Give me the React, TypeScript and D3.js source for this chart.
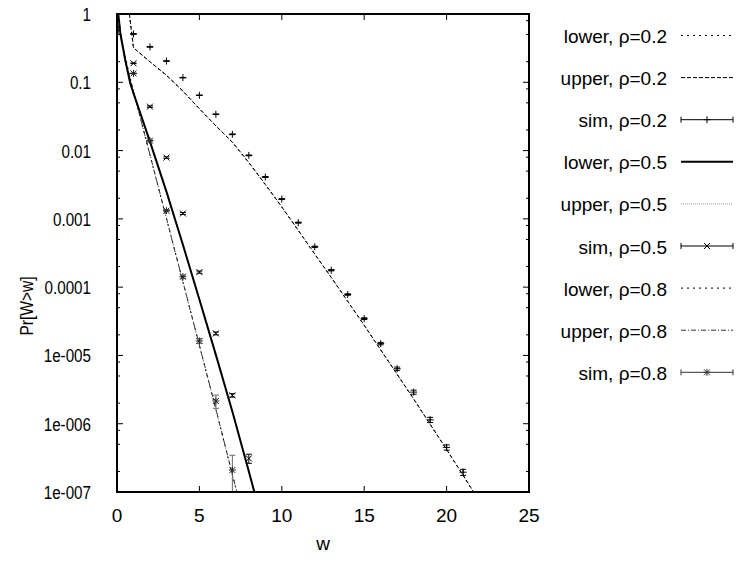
import React from "react";
import * as d3 from "d3";

const WIDTH = 737;
const HEIGHT = 562;

// Axis ticks
const xTicks = [0, 5, 10, 15, 20, 25];
const yTicks = [1, 0.1, 0.01, 0.001, 0.0001, 1e-5, 1e-6, 1e-7];
const yTickLabels = ["1", "0.1", "0.01", "0.001", "0.0001", "1e-005", "1e-006", "1e-007"];
const minorFactors = [2, 5, 8];

// Bounds, rho = 0.2
const lower02W = [0.75, 1, 2, 3, 4, 5, 6, 7, 8, 9, 10, 11, 12, 13, 14, 15, 16, 17, 18, 19, 20, 21, 22];
const lower02P = [1, 0.32, 0.199, 0.126, 0.0741, 0.0407, 0.0229, 0.0132, 0.0066, 0.00316, 0.00148, 6.76e-4, 3.02e-4, 1.38e-4, 6.17e-5, 2.75e-5, 1.2e-5, 5.25e-6, 2.29e-6, 9.77e-7, 4.17e-7, 1.74e-7, 7.2e-8];
const upper02W = [0.75, 1, 2, 3, 4, 5, 6, 7, 8, 9, 10, 11, 12, 13, 14, 15, 16, 17, 18, 19, 20, 21, 22];
const upper02P = [1, 0.32, 0.2, 0.127, 0.0745, 0.041, 0.023, 0.0133, 0.0067, 0.0032, 0.0015, 6.8e-4, 3.05e-4, 1.39e-4, 6.2e-5, 2.77e-5, 1.21e-5, 5.3e-6, 2.31e-6, 9.85e-7, 4.2e-7, 1.76e-7, 7.3e-8];

// Bounds, rho = 0.5
const lower05W = [0.08, 0.2, 0.5, 0.8, 1, 2, 3, 4, 5, 6, 7, 8, 9];
const lower05P = [1, 0.525, 0.214, 0.0977, 0.0692, 0.0135, 0.00251, 4.17e-4, 6.6e-5, 1.02e-5, 1.51e-6, 2.0e-7, 2.5e-8];
const upper05W = [0.04, 0.2, 0.5, 0.8, 1, 2, 3, 4, 5, 6, 7, 8, 9];
const upper05P = [1, 0.45, 0.19, 0.095, 0.07, 0.0137, 0.00255, 4.22e-4, 6.7e-5, 1.04e-5, 1.53e-6, 2.03e-7, 2.55e-8];

// Bounds, rho = 0.8
const lower08W = [0.03, 0.3, 1, 2, 3, 4, 5, 6, 7, 8];
const lower08P = [1, 0.38, 0.073, 0.0086, 0.00101, 1.19e-4, 1.4e-5, 1.62e-6, 1.8e-7, 2.0e-8];
const upper08W = [0.05, 0.5, 1, 2, 3, 4, 5, 6, 7, 8];
const upper08P = [1, 0.2, 0.0741, 0.0087, 0.00102, 1.2e-4, 1.41e-5, 1.64e-6, 1.82e-7, 2.0e-8];

// Simulation estimates with error half-widths
const sim02W = [0, 1, 2, 3, 4, 5, 6, 7, 8, 9, 10, 11, 12, 13, 14, 15, 16, 17, 18, 19, 20, 21];
const sim02P = [0.66, 0.51, 0.33, 0.205, 0.117, 0.0645, 0.034, 0.0173, 0.0085, 0.0041, 0.00195, 8.8e-4, 3.9e-4, 1.77e-4, 7.8e-5, 3.46e-5, 1.49e-5, 6.4e-6, 2.9e-6, 1.14e-6, 4.5e-7, 1.95e-7];
const sim02Err = [0.003, 0.003, 0.002, 0.001, 0.0008, 0.0005, 0.0003, 0.0002, 0.0001, 0.00006, 0.00003, 1.5e-5, 8e-6, 4e-6, 2e-6, 1e-6, 6e-7, 3.5e-7, 2e-7, 1e-7, 4e-8, 2e-8];

const sim05W = [0, 1, 2, 3, 4, 5, 6, 7, 8];
const sim05P = [0.6, 0.19, 0.044, 0.0079, 0.0012, 1.66e-4, 2.1e-5, 2.6e-6, 3.1e-7];
const sim05Err = [0.003, 0.002, 0.001, 0.0002, 0.00004, 6e-6, 1e-6, 1.5e-7, 4.7e-8];

const sim08W = [0, 1, 2, 3, 4, 5, 6, 7];
const sim08P = [0.55, 0.135, 0.014, 0.00132, 1.42e-4, 1.63e-5, 2.15e-6, 2.1e-7];
const sim08Err = [0.003, 0.002, 0.0003, 0.00005, 8e-6, 1.3e-6, 4.7e-7, 1.35e-7];

type Marker = "plus" | "cross" | "star";

const x = d3.scaleLinear().domain([0, 25]).range([117, 529]);
const y = d3.scaleLog().domain([1e-7, 1]).range([492, 14]);

const zip = (w: number[], p: number[]) => w.map((v, i) => [v, p[i]] as [number, number]);

const lineGen = d3
  .line<[number, number]>()
  .x((d) => x(d[0]))
  .y((d) => y(d[1]));

const curves = [
  { key: "l02", data: zip(lower02W, lower02P), stroke: "#000", width: 1, dash: "2,4" },
  { key: "u02", data: zip(upper02W, upper02P), stroke: "#000", width: 1, dash: "4,2" },
  { key: "u05", data: zip(upper05W, upper05P), stroke: "#999", width: 1, dash: "1,1" },
  { key: "l08", data: zip(lower08W, lower08P), stroke: "#000", width: 1, dash: "2,4" },
  { key: "u08", data: zip(upper08W, upper08P), stroke: "#333", width: 1, dash: "5,2,1,2" },
  { key: "l05", data: zip(lower05W, lower05P), stroke: "#000", width: 2, dash: undefined },
];

const sims = [
  { key: "s02", w: sim02W, p: sim02P, err: sim02Err, marker: "plus" as Marker, color: "#000", barColor: "#000" },
  { key: "s05", w: sim05W, p: sim05P, err: sim05Err, marker: "cross" as Marker, color: "#000", barColor: "#000" },
  { key: "s08", w: sim08W, p: sim08P, err: sim08Err, marker: "star" as Marker, color: "#222", barColor: "#666" },
];

const legendLabels = [
  "lower, ρ=0.2",
  "upper, ρ=0.2",
  "sim, ρ=0.2",
  "lower, ρ=0.5",
  "upper, ρ=0.5",
  "sim, ρ=0.5",
  "lower, ρ=0.8",
  "upper, ρ=0.8",
  "sim, ρ=0.8",
];
const legendSamples: ({ kind: "line"; stroke: string; width: number; dash?: string } | { kind: "sim"; marker: Marker; color: string })[] = [
  { kind: "line", stroke: "#000", width: 1, dash: "2,4" },
  { kind: "line", stroke: "#000", width: 1, dash: "4,2" },
  { kind: "sim", marker: "plus", color: "#000" },
  { kind: "line", stroke: "#000", width: 2 },
  { kind: "line", stroke: "#999", width: 1, dash: "1,1" },
  { kind: "sim", marker: "cross", color: "#000" },
  { kind: "line", stroke: "#000", width: 1, dash: "2,4" },
  { kind: "line", stroke: "#333", width: 1, dash: "5,2,1,2" },
  { kind: "sim", marker: "star", color: "#333" },
];

function MarkerShape({ type, cx, cy, color }: { type: Marker; cx: number; cy: number; color: string }) {
  const p = 3.5;
  const c = 3;
  const parts: string[] = [];
  if (type === "plus" || type === "star") {
    parts.push(`M${cx - p},${cy}H${cx + p}M${cx},${cy - p}V${cy + p}`);
  }
  if (type === "cross" || type === "star") {
    parts.push(`M${cx - c},${cy - c}L${cx + c},${cy + c}M${cx - c},${cy + c}L${cx + c},${cy - c}`);
  }
  return <path d={parts.join("")} stroke={color} strokeWidth={1} fill="none" />;
}

export default function App() {
  const left = x.range()[0];
  const right = x.range()[1];
  const top = y.range()[1];
  const bottom = y.range()[0];

  const minorTicks: number[] = [];
  for (let e = -7; e < 0; e++) {
    minorFactors.forEach((f) => minorTicks.push(f * Math.pow(10, e)));
  }

  const legendX0 = 681;
  const legendX1 = 733;
  const legendTextX = 667;
  const legendY = (i: number) => 35.5 + i * 42.1;

  return (
    <svg
      width={WIDTH}
      height={HEIGHT}
      style={{ position: "absolute", left: 0, top: 0, background: "#fff" }}
      fontFamily="'Liberation Sans', Arial, sans-serif"
    >
      <rect x={0} y={0} width={WIDTH} height={HEIGHT} fill="#fff" />
      <defs>
        <clipPath id="plotArea">
          <rect x={left} y={top} width={right - left} height={bottom - top} />
        </clipPath>
      </defs>

      {/* ticks */}
      <g stroke="#000" strokeWidth={1}>
        {xTicks.map((t) => (
          <g key={`xt${t}`}>
            <line x1={x(t)} x2={x(t)} y1={bottom} y2={bottom - 6} />
            <line x1={x(t)} x2={x(t)} y1={top} y2={top + 6} />
          </g>
        ))}
        {yTicks.map((t) => (
          <g key={`yt${t}`}>
            <line x1={left} x2={left + 6} y1={y(t)} y2={y(t)} />
            <line x1={right} x2={right - 6} y1={y(t)} y2={y(t)} />
          </g>
        ))}
        {minorTicks.map((t, i) => (
          <g key={`ym${i}`}>
            <line x1={left} x2={left + 3} y1={y(t)} y2={y(t)} />
            <line x1={right} x2={right - 3} y1={y(t)} y2={y(t)} />
          </g>
        ))}
      </g>

      {/* model curves */}
      <g clipPath="url(#plotArea)" fill="none">
        {curves.map((c) => (
          <path key={c.key} d={lineGen(c.data) || ""} stroke={c.stroke} strokeWidth={c.width} strokeDasharray={c.dash} />
        ))}
      </g>

      {/* simulation points with error bars */}
      <g clipPath="url(#plotArea)">
        {sims.map((s) =>
          s.w.map((w, i) => {
            const cx = x(w);
            const cy = y(s.p[i]);
            const lo = Math.max(s.p[i] - s.err[i], 1e-9);
            const hi = s.p[i] + s.err[i];
            const yLo = y(lo);
            const yHi = y(hi);
            return (
              <g key={`${s.key}-${i}`}>
                <path
                  d={`M${cx},${yLo}V${yHi}M${cx - 3},${yLo}H${cx + 3}M${cx - 3},${yHi}H${cx + 3}`}
                  stroke={s.barColor}
                  strokeWidth={1}
                  fill="none"
                />
                <MarkerShape type={s.marker} cx={cx} cy={cy} color={s.color} />
              </g>
            );
          })
        )}
      </g>

      {/* frame */}
      <rect x={left} y={top} width={right - left} height={bottom - top} fill="none" stroke="#000" strokeWidth={2} />

      {/* x tick labels */}
      <g fontSize={19} textAnchor="middle" fill="#000">
        {xTicks.map((t) => (
          <text key={`xl${t}`} x={x(t)} y={522}>
            {t}
          </text>
        ))}
      </g>
      <text x={(left + right) / 2} y={550} fontSize={19} textAnchor="middle">
        w
      </text>

      {/* y tick labels */}
      <g fontSize={19} fill="#000">
        {yTicks.map((t, i) => (
          <g key={`yl${t}`} transform={`translate(91,${y(t) + 7}) scale(0.8,1)`}>
            <text textAnchor="end">{yTickLabels[i]}</text>
          </g>
        ))}
      </g>
      <g transform={`translate(33,306) rotate(-90) scale(0.82,1)`}>
        <text textAnchor="middle" fontSize={19}>
          Pr[W&gt;w]
        </text>
      </g>

      {/* legend */}
      <g>
        {legendLabels.map((label, i) => {
          const ly = legendY(i);
          const s = legendSamples[i];
          return (
            <g key={`lg${i}`}>
              <text x={legendTextX} y={ly + 7.5} fontSize={19} textAnchor="end">
                {label}
              </text>
              {s.kind === "line" ? (
                <line x1={legendX0} x2={legendX1} y1={ly} y2={ly} stroke={s.stroke} strokeWidth={s.width} strokeDasharray={s.dash} />
              ) : (
                <g>
                  <path
                    d={`M${legendX0},${ly}H${legendX1}M${legendX0},${ly - 3}V${ly + 3}M${legendX1},${ly - 3}V${ly + 3}`}
                    stroke={s.color}
                    strokeWidth={1}
                    fill="none"
                  />
                  <MarkerShape type={s.marker} cx={(legendX0 + legendX1) / 2} cy={ly} color={s.color} />
                </g>
              )}
            </g>
          );
        })}
      </g>
    </svg>
  );
}
